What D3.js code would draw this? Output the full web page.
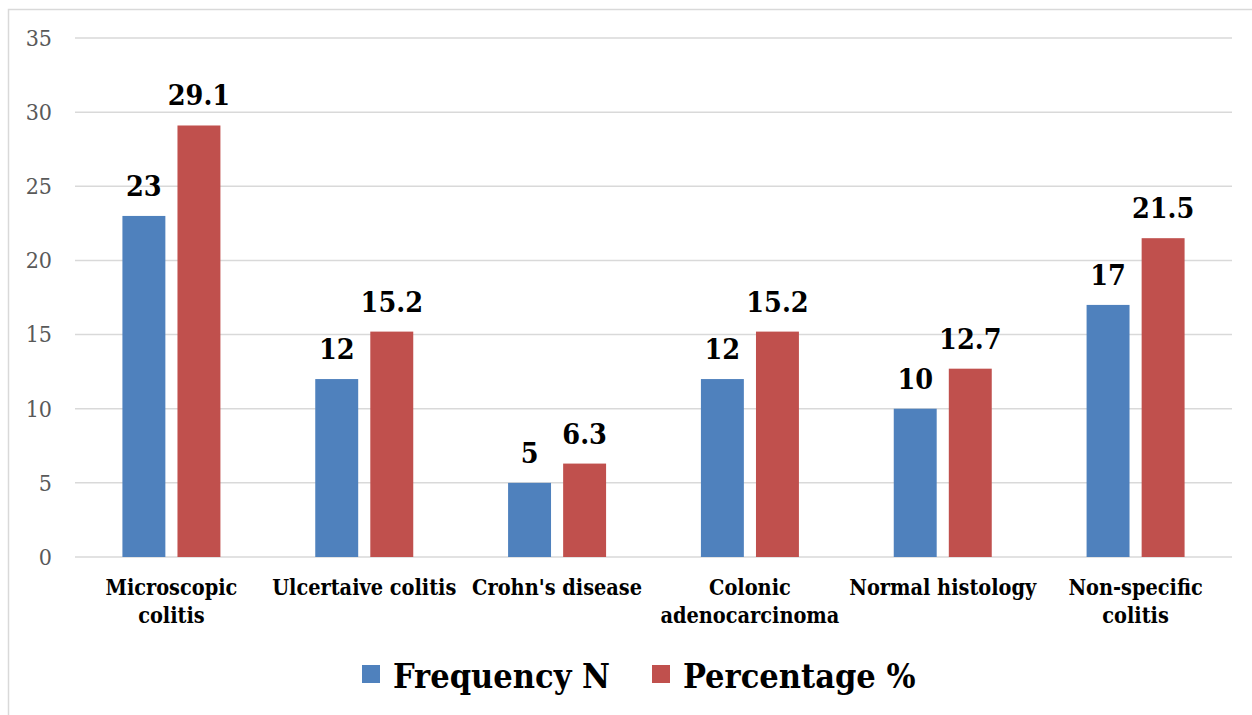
<!DOCTYPE html>
<html>
<head>
<meta charset="utf-8">
<script src="https://cdn.jsdelivr.net/npm/d3@7"></script>
<style>
  html, body { margin: 0; padding: 0; background: #fff; }
  svg { display: block; }
  .serif { font-family: "DejaVu Serif Condensed", "DejaVu Serif", serif; }
</style>
</head>
<body>
<svg id="chart" width="1252" height="715"></svg>
<script>
const categories = [
  ["Microscopic", "colitis"],
  ["Ulcertaive colitis"],
  ["Crohn's disease"],
  ["Colonic", "adenocarcinoma"],
  ["Normal histology"],
  ["Non-specific", "colitis"]
];
const seriesNames = ["Frequency N", "Percentage %"];
const frequency = [23, 12, 5, 12, 10, 17];
const percentage = [29.1, 15.2, 6.3, 15.2, 12.7, 21.5];
const yTicks = [0, 5, 10, 15, 20, 25, 30, 35];
const colors = ["#4f81bd", "#c0504d"];

const svg = d3.select("#chart");
const W = 1252, H = 715;

// outer chart border
svg.append("rect").attr("x", 8.5).attr("y", 9.5).attr("width", W).attr("height", H)
  .attr("fill", "none").attr("stroke", "#d9d9d9").attr("stroke-width", 1.5);

const plot = { left: 75, right: 1232, top: 38, bottom: 557 };
const x = d3.scaleBand().domain(d3.range(categories.length)).range([plot.left, plot.right]);
const y = d3.scaleLinear().domain([0, 35]).range([plot.bottom, plot.top]);
const sub = d3.scaleBand().domain([0, 1]).range([-49, 49]).paddingInner(0.22);

// gridlines
svg.append("g").selectAll("line").data(yTicks).join("line")
  .attr("x1", plot.left).attr("x2", plot.right)
  .attr("y1", d => y(d)).attr("y2", d => y(d))
  .attr("stroke", "#d9d9d9").attr("stroke-width", 1.5);

// y axis labels
const yAxis = d3.axisLeft(y).tickValues(yTicks).tickSize(0).tickPadding(0).tickFormat(d3.format("d"));
const yg = svg.append("g").attr("transform", `translate(52,0)`).call(yAxis);
yg.select(".domain").remove();
yg.selectAll("text").attr("font-size", 23).attr("fill", "#595959")
  .attr("font-family", "\"DejaVu Serif Condensed\", \"DejaVu Serif\", serif");

const series = [frequency, percentage];
series.forEach((vals, si) => {
  const g = svg.append("g");
  g.selectAll("rect").data(vals).join("rect")
    .attr("x", (d, i) => x(i) + x.bandwidth() / 2 + sub(si))
    .attr("width", sub.bandwidth())
    .attr("y", d => y(d))
    .attr("height", d => y(0) - y(d))
    .attr("fill", colors[si]);
  g.selectAll("text").data(vals).join("text")
    .attr("class", "serif")
    .attr("x", (d, i) => x(i) + x.bandwidth() / 2 + sub(si) + sub.bandwidth() / 2)
    .attr("y", d => y(d) - 20)
    .attr("text-anchor", "middle")
    .attr("font-size", 28.5).attr("font-weight", "bold").attr("fill", "#000")
    .text(d => d);
});

// category labels
const cg = svg.append("g");
categories.forEach((lines, i) => {
  const t = cg.append("text").attr("class", "serif")
    .attr("x", x(i) + x.bandwidth() / 2).attr("y", 595)
    .attr("text-anchor", "middle").attr("font-size", 21.5).attr("font-weight", "bold").attr("fill", "#000");
  lines.forEach((l, j) => {
    t.append("tspan").attr("x", x(i) + x.bandwidth() / 2).attr("dy", j === 0 ? 0 : 28).text(l);
  });
});

// legend
const legendX = [362, 652];
const lg = svg.append("g");
seriesNames.forEach((n, i) => {
  lg.append("rect").attr("x", legendX[i]).attr("y", 665).attr("width", 18).attr("height", 18).attr("fill", colors[i]);
  lg.append("text").attr("class", "serif").attr("x", legendX[i] + 31).attr("y", 688)
    .attr("font-size", 34).attr("font-weight", "bold").attr("fill", "#000").text(n);
});
</script>
</body>
</html>
